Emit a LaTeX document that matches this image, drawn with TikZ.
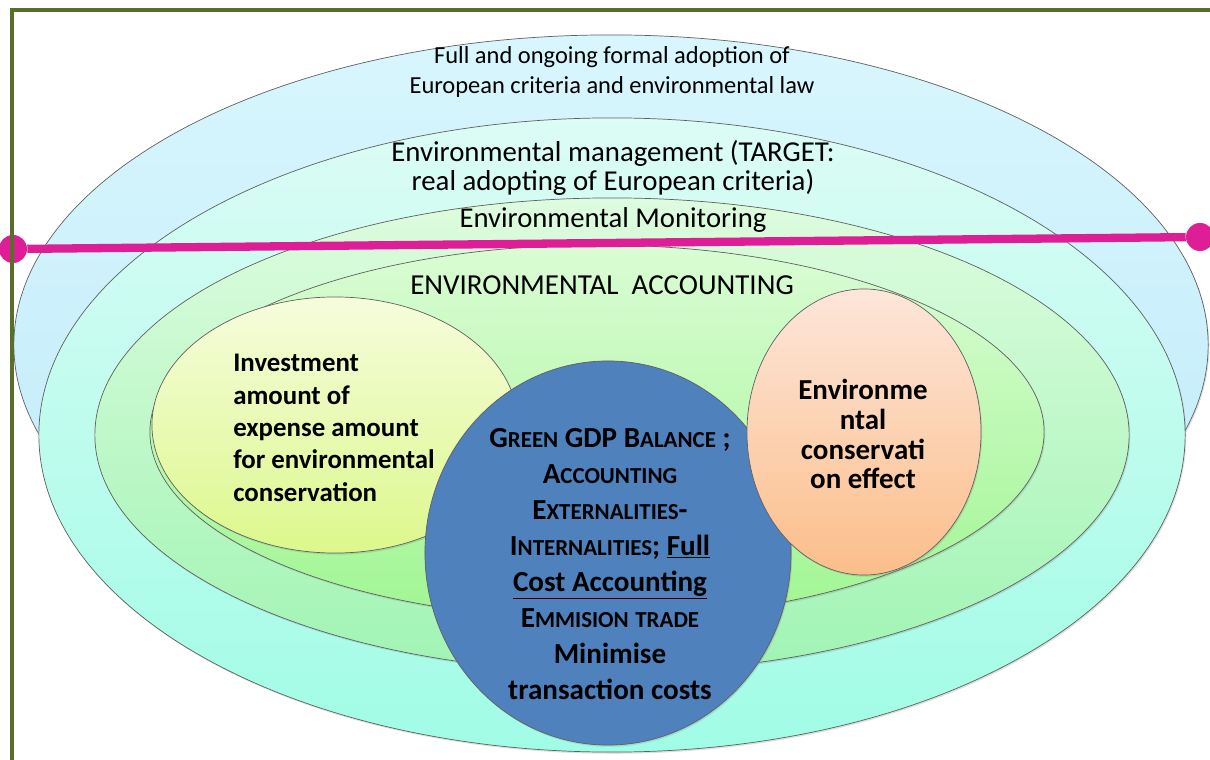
\documentclass[tikz,border=0pt]{standalone}
\usepackage{fontspec}
\setmainfont{Carlito}
\usetikzlibrary{shapes,shadows,positioning}

\definecolor{framegreen}{RGB}{90,110,44}
\definecolor{pinkline}{RGB}{222,30,150}
\definecolor{ringedge}{RGB}{96,96,96}
\definecolor{bluedisc}{RGB}{79,129,189}

% fake small caps: big first letter, smaller rest
\newcommand{\fsc}[2]{#1{\fontsize{16.3}{16}\selectfont #2}}

\begin{document}
\begin{tikzpicture}[x=0.025cm, y=-0.025cm,
    ring/.style={ellipse, draw=ringedge, line width=0.5pt, inner sep=0pt,
      drop shadow={opacity=0.25, shadow xshift=0.8pt, shadow yshift=-1.2pt}},
    lbl/.style={align=center, inner sep=0pt, text=black}]
  \useasboundingbox (0,0) rectangle (1210,760);

  % nested ellipses
  \node[ring, top color={rgb,255:red,216;green,246;blue,253}, bottom color={rgb,255:red,190;green,234;blue,250},
    minimum width=29.85cm, minimum height=15.5cm] (law) at (611,345) {};
  \node[ring, top color={rgb,255:red,220;green,252;blue,245}, bottom color={rgb,255:red,160;green,252;blue,230},
    minimum width=28.65cm, minimum height=15.85cm] (mgmt) at (612,435) {};
  \node[ring, top color={rgb,255:red,222;green,252;blue,222}, bottom color={rgb,255:red,160;green,244;blue,180},
    minimum width=25.85cm, minimum height=11.85cm] (monit) at (612,435) {};
  \node[ring, top color={rgb,255:red,218;green,252;blue,212}, bottom color={rgb,255:red,160;green,246;blue,146},
    minimum width=22.35cm, minimum height=9.35cm] (acct) at (597,432) {};

  % inner ellipses
  \node[ring, top color={rgb,255:red,246;green,252;blue,220}, bottom color={rgb,255:red,220;green,248;blue,140},
    minimum width=9.15cm, minimum height=6.4cm] (invest) at (335,425) {};
  \node[ring, fill=bluedisc, minimum width=9.15cm, minimum height=9.6cm] (green) at (608,553) {};
  \node[ring, top color={rgb,255:red,253;green,230;blue,218}, bottom color={rgb,255:red,251;green,190;blue,138},
    minimum width=5.85cm, minimum height=7.15cm] (effect) at (864,432) {};

  % texts
  \node[lbl, font={\fontsize{17.4}{21.3}\selectfont}] (lawtxt) at (612,72)
    {Full and ongoing formal adoption of\\European criteria and environmental law};
  \node[lbl, font={\fontsize{20.5}{20.6}\selectfont}] (mgmttxt) at (613,168)
    {Environmental management (TARGET:\\real adopting of European criteria)};
  \node[lbl, font={\fontsize{20.4}{20}\selectfont}] (monittxt) at (613,220) {Environmental Monitoring};
  \node[lbl, font={\fontsize{20.6}{20}\selectfont}] (accttxt) at (602,285) {ENVIRONMENTAL\ \ ACCOUNTING};
  \node[lbl, align=left, anchor=west, font={\bfseries\fontsize{19.1}{23}\selectfont}] (investtxt) at (233,428)
    {Investment\\amount of\\expense amount\\for environmental\\conservation};
  \node[lbl, font={\bfseries\fontsize{20.7}{25.6}\selectfont}] (greentxt) at (610,564)
    {\fsc{G}{REEN} GDP \fsc{B}{ALANCE} ;\\
     \fsc{A}{CCOUNTING}\\
     \fsc{E}{XTERNALITIES}-\\
     \fsc{I}{NTERNALITIES}; \underline{Full}\\
     \underline{Cost Accounting}\\
     \fsc{E}{MMISION} \fsc{}{TRADE}\\
     Minimise\\
     transaction costs};
  \node[lbl, font={\bfseries\fontsize{20.6}{21.3}\selectfont}] (effecttxt) at (863,434)
    {Environme\\ntal\\conservati\\on effect};

  % dividing line
  \node[circle, fill=pinkline, minimum size=0.7cm, inner sep=0pt] (dotl) at (13,249) {};
  \node[circle, fill=pinkline, minimum size=0.7cm, inner sep=0pt] (dotr) at (1200,237) {};
  \draw[pinkline, line width=5.9pt] (dotl) -- (dotr);

  % frame
  \draw[framegreen, line width=2.2pt] (12,760) -- (12,10) -- (1210,10);
\end{tikzpicture}
\end{document}
